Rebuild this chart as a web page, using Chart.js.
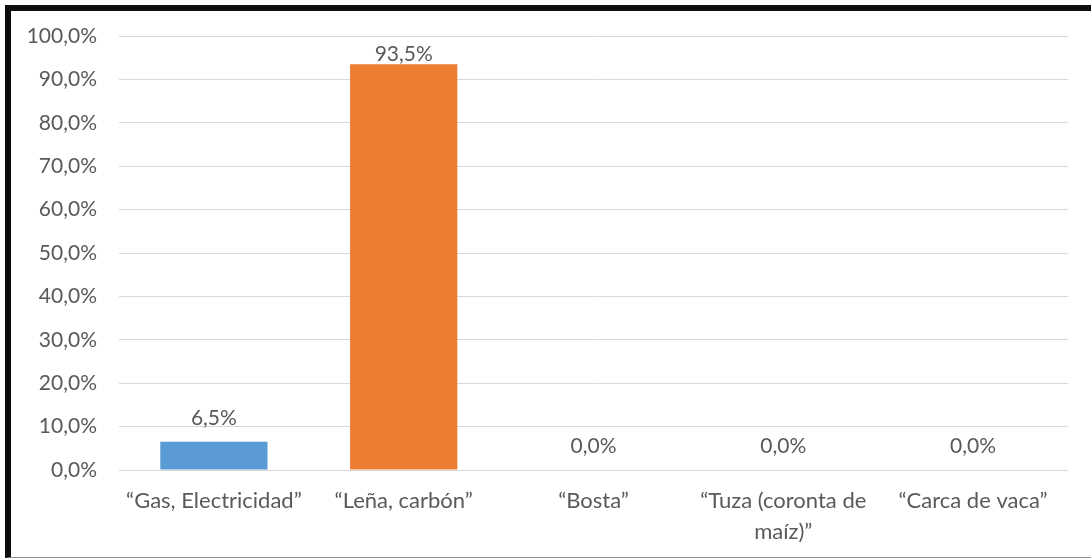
<!DOCTYPE html>
<html>
<head>
<meta charset="utf-8">
<script src="https://cdn.jsdelivr.net/npm/chart.js@4.4.1/dist/chart.umd.min.js"></script>
<style>
  html, body { margin: 0; padding: 0; background: #ffffff; }
  #wrap { position: relative; width: 1091px; height: 559px; overflow: hidden; }
  #frame {
    position: absolute; left: 5px; top: 5px; right: -10px; bottom: 1px;
    border-top: 6px solid #0d0d0d; border-left: 6px solid #0d0d0d;
    border-bottom: 1px solid #8c8c8c; pointer-events: none;
  }
  canvas { position: absolute; left: 0; top: 0; }
</style>
</head>
<body>
<div id="wrap">
  <canvas id="c" width="1091" height="559"></canvas>
  <div id="frame"></div>
</div>
<script>
const categories = [
  '“Gas, Electricidad”',
  '“Leña, carbón”',
  '“Bosta”',
  ['“Tuza (coronta de', 'maíz)”'],
  '“Carca de vaca”'
];
const values = [6.5, 93.5, 0, 0, 0];
const barColors = ['#5B9BD5', '#ED7D31', '#A5A5A5', '#FFC000', '#4472C4'];
const yTicks = [0, 10, 20, 30, 40, 50, 60, 70, 80, 90, 100];

const FONT = 'Lato, "Open Sans", sans-serif';
const TEXT = '#595959';
const fmt = v => v.toFixed(1).replace('.', ',') + '%';

// Value labels above each bar, kept inside the plot area
const valueLabels = {
  id: 'valueLabels',
  afterDatasetsDraw(chart) {
    const ctx = chart.ctx;
    const area = chart.chartArea;
    const meta = chart.getDatasetMeta(0);
    ctx.save();
    ctx.font = '21px ' + FONT;
    ctx.fillStyle = TEXT;
    ctx.textAlign = 'center';
    ctx.textBaseline = 'alphabetic';
    meta.data.forEach((bar, i) => {
      const y = Math.max(bar.y - 17, area.top + 25);
      ctx.fillText(fmt(values[i]), bar.x, y);
    });
    ctx.restore();
  }
};

new Chart(document.getElementById('c'), {
  type: 'bar',
  data: {
    labels: categories,
    datasets: [{
      data: values,
      backgroundColor: barColors,
      borderWidth: 0,
      categoryPercentage: 1,
      barPercentage: 0.565
    }]
  },
  options: {
    responsive: false,
    animation: false,
    events: [],
    layout: { padding: { top: 36, right: 23, bottom: 0, left: 0 } },
    plugins: { legend: { display: false }, tooltip: { enabled: false } },
    scales: {
      x: {
        grid: { display: false },
        border: { display: false },
        ticks: {
          color: TEXT,
          font: { family: FONT, size: 22, lineHeight: 1.4 },
          padding: 8,
          maxRotation: 0,
          autoSkip: false
        },
        afterFit(scale) { scale.height = 89; }
      },
      y: {
        min: 0,
        max: 100,
        afterBuildTicks(scale) { scale.ticks = yTicks.map(v => ({ value: v })); },
        grid: { color: '#D9D9D9', lineWidth: 1, drawTicks: false },
        border: { display: false },
        ticks: {
          color: TEXT,
          font: { family: FONT, size: 21 },
          padding: 22,
          callback: v => fmt(v)
        },
        afterFit(scale) { scale.width = 119; }
      }
    }
  },
  plugins: [valueLabels]
});
</script>
</body>
</html>
